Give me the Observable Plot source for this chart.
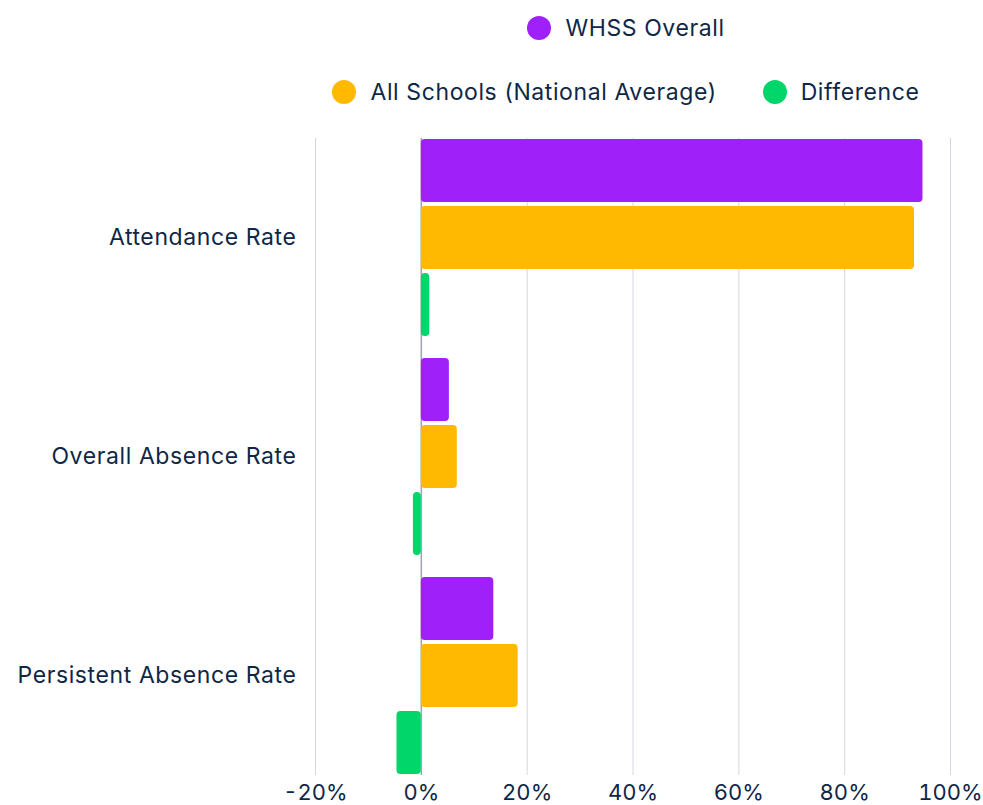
<!DOCTYPE html>
<html>
<head>
<meta charset="utf-8">
<script src="https://cdn.jsdelivr.net/npm/d3@7"></script>
<script src="https://cdn.jsdelivr.net/npm/@observablehq/plot@0.6"></script>
<style>
  html, body { margin: 0; padding: 0; background: #fff; }
  body { width: 983px; height: 805px; overflow: hidden; font-family: "Inter", sans-serif; color: #0f2747; }
  #legend { height: 125px; width: 714px; margin-left: 269px; position: relative; font-size: 23px; letter-spacing: 0.6px; }
  .row { display: flex; justify-content: center; align-items: center; position: absolute; left: 0; right: 0; }
  .item { display: flex; align-items: center; white-space: nowrap; }
  .item + .item { margin-left: 46px; }
  .dot { width: 24px; height: 24px; border-radius: 50%; margin-right: 14px; }
  #chart svg { display: block; overflow: visible; }
  #chart svg g[aria-label="x-axis tick label"] text { letter-spacing: 0; font-size: 22px; }
</style>
</head>
<body>
<div id="legend"></div>
<div id="chart"></div>
<script>
const categories = ["Attendance Rate", "Overall Absence Rate", "Persistent Absence Rate"];
const seriesNames = ["WHSS Overall", "All Schools (National Average)", "Difference"];
const seriesColors = ["#a020fa", "#ffb900", "#00d66a"];
const whss = [94.8, 5.3, 13.7];
const national = [93.2, 6.8, 18.3];
const difference = [1.6, -1.5, -4.6];
const xTicks = [-20, 0, 20, 40, 60, 80, 100];

const series = [whss, national, difference];
const rows = seriesNames.map((name, s) => categories.map((c, i) => ({category: c, series: name, value: series[s][i]})));

// legend (two rows like the reference)
const legend = document.getElementById("legend");
const legendRows = [[0], [1, 2]];
const rowTops = [14, 78];
legendRows.forEach((idxs, r) => {
  const row = document.createElement("div");
  row.className = "row";
  row.style.top = rowTops[r] + "px";
  idxs.forEach(s => {
    const item = document.createElement("div");
    item.className = "item";
    const dot = document.createElement("span");
    dot.className = "dot";
    dot.style.background = seriesColors[s];
    const label = document.createElement("span");
    label.textContent = seriesNames[s];
    item.appendChild(dot);
    item.appendChild(label);
    row.appendChild(item);
  });
  legend.appendChild(row);
});

const insets = [[0, 134], [67, 67], [134, 0]];

const plot = Plot.plot({
  width: 983,
  height: 680,
  marginTop: 13,
  marginBottom: 30,
  marginLeft: 315,
  marginRight: 33,
  style: {fontFamily: "Inter, sans-serif", fontSize: "23px", letterSpacing: "0.6px", color: "#0f2747", background: "transparent", overflow: "visible"},
  x: {domain: [-20, 100], ticks: xTicks, tickFormat: d => `${d}%`, tickSize: 0, tickPadding: 9, label: null},
  y: {domain: categories, paddingInner: 0.1, paddingOuter: 0, tickSize: 0, tickPadding: 19, label: null},
  marks: [
    Plot.ruleX(xTicks, {stroke: "#d3d7dd", strokeWidth: 1}),
    Plot.ruleX([0], {stroke: "#9ea7b1", strokeWidth: 1.5}),
    ...rows.map((data, s) => Plot.barX(data, {
      x: "value",
      y: "category",
      fill: seriesColors[s],
      insetTop: insets[s][0],
      insetBottom: insets[s][1],
      rx: 4
    }))
  ]
});
document.getElementById("chart").appendChild(plot);
</script>
</body>
</html>
